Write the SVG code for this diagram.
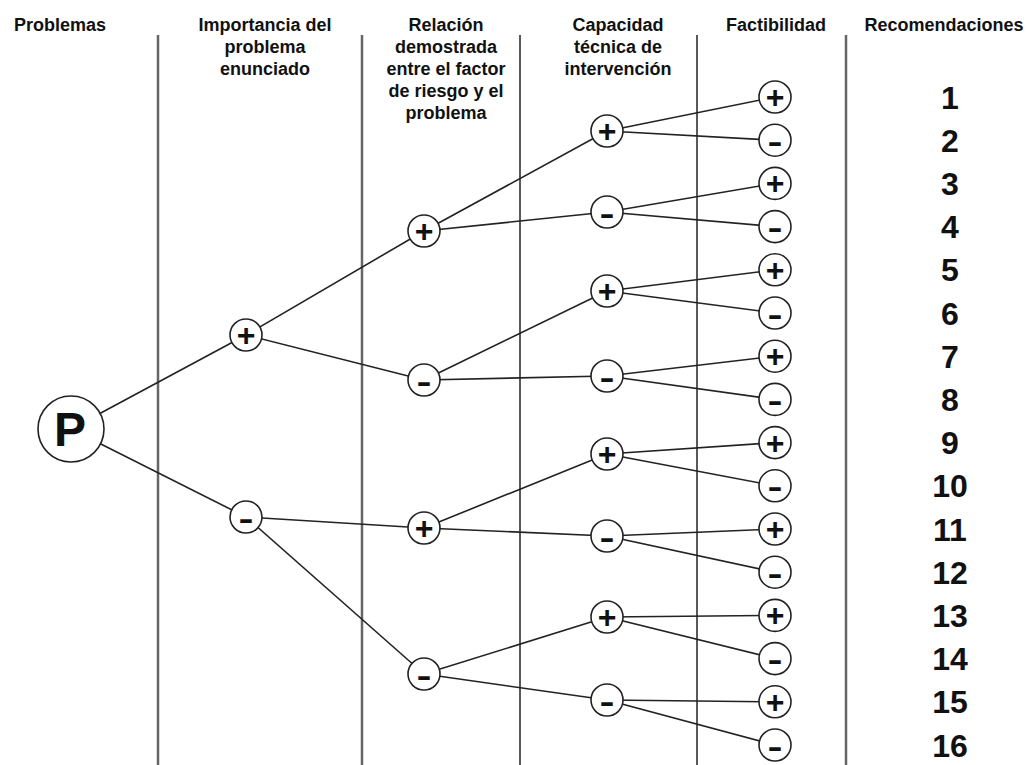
<svg xmlns="http://www.w3.org/2000/svg" width="1028" height="765" viewBox="0 0 1028 765">
  <style>
    .hdr { font-family: "Liberation Sans", Arial, sans-serif; font-weight: bold; font-size: 18px; fill: #111; text-anchor: middle; }
    .num { font-family: "Liberation Sans", Arial, sans-serif; font-weight: bold; font-size: 32px; fill: #111; text-anchor: middle; }
    .sign { font-family: "Liberation Sans", Arial, sans-serif; font-weight: bold; font-size: 32px; fill: #111; text-anchor: middle; }
    .big { font-family: "Liberation Sans", Arial, sans-serif; font-weight: bold; font-size: 48px; fill: #111; text-anchor: middle; }
    .node { fill: #fff; stroke: #222; stroke-width: 1.6; }
    .edge { stroke: #222; stroke-width: 1.6; fill: none; }
    .col-g { stroke: #666; stroke-width: 2.5; }
    .col-k { stroke: #222; stroke-width: 1.5; }
  </style>

  <!-- column separators -->
  <g id="columns">
    <line class="col-g" x1="158" y1="35" x2="158" y2="765"/>
    <line class="col-g" x1="362" y1="35" x2="362" y2="765"/>
    <line class="col-k" x1="520" y1="35" x2="520" y2="765"/>
    <line class="col-k" x1="697" y1="35" x2="697" y2="765"/>
    <line class="col-g" x1="846" y1="35" x2="846" y2="765"/>
  </g>

  <!-- column headings -->
  <g id="headers">
    <text class="hdr" x="60" y="31">Problemas</text>
    <text class="hdr" x="265" y="31">Importancia del</text>
    <text class="hdr" x="265" y="53">problema</text>
    <text class="hdr" x="265" y="75">enunciado</text>
    <text class="hdr" x="446" y="31">Relación</text>
    <text class="hdr" x="446" y="53">demostrada</text>
    <text class="hdr" x="446" y="75">entre el factor</text>
    <text class="hdr" x="446" y="97">de riesgo y el</text>
    <text class="hdr" x="446" y="119">problema</text>
    <text class="hdr" x="618" y="31">Capacidad</text>
    <text class="hdr" x="618" y="53">técnica de</text>
    <text class="hdr" x="618" y="75">intervención</text>
    <text class="hdr" x="776" y="31">Factibilidad</text>
    <text class="hdr" x="944" y="31">Recomendaciones</text>
  </g>

  <!-- tree branches -->
  <g id="connectors">
    <line class="edge" x1="71" y1="429" x2="246" y2="335"/>
    <line class="edge" x1="71" y1="429" x2="246" y2="517"/>

    <line class="edge" x1="246" y1="335" x2="424" y2="231"/>
    <line class="edge" x1="246" y1="335" x2="424" y2="380"/>
    <line class="edge" x1="246" y1="517" x2="424" y2="528"/>
    <line class="edge" x1="246" y1="517" x2="424" y2="674"/>

    <line class="edge" x1="424" y1="231" x2="607" y2="131"/>
    <line class="edge" x1="424" y1="231" x2="607" y2="212"/>
    <line class="edge" x1="424" y1="380" x2="607" y2="291"/>
    <line class="edge" x1="424" y1="380" x2="607" y2="376"/>
    <line class="edge" x1="424" y1="528" x2="607" y2="454"/>
    <line class="edge" x1="424" y1="528" x2="607" y2="536"/>
    <line class="edge" x1="424" y1="674" x2="607" y2="617"/>
    <line class="edge" x1="424" y1="674" x2="607" y2="700"/>

    <line class="edge" x1="607" y1="131" x2="775" y2="97"/>
    <line class="edge" x1="607" y1="131" x2="775" y2="140.2"/>
    <line class="edge" x1="607" y1="212" x2="775" y2="183.4"/>
    <line class="edge" x1="607" y1="212" x2="775" y2="226.6"/>
    <line class="edge" x1="607" y1="291" x2="775" y2="269.8"/>
    <line class="edge" x1="607" y1="291" x2="775" y2="313"/>
    <line class="edge" x1="607" y1="376" x2="775" y2="356.2"/>
    <line class="edge" x1="607" y1="376" x2="775" y2="399.4"/>
    <line class="edge" x1="607" y1="454" x2="775" y2="442.6"/>
    <line class="edge" x1="607" y1="454" x2="775" y2="485.8"/>
    <line class="edge" x1="607" y1="536" x2="775" y2="529"/>
    <line class="edge" x1="607" y1="536" x2="775" y2="572.2"/>
    <line class="edge" x1="607" y1="617" x2="775" y2="615.4"/>
    <line class="edge" x1="607" y1="617" x2="775" y2="658.6"/>
    <line class="edge" x1="607" y1="700" x2="775" y2="701.8"/>
    <line class="edge" x1="607" y1="700" x2="775" y2="745"/>
  </g>

  <!-- root -->
  <g id="node-P">
    <circle class="node" cx="71" cy="429" r="33"/>
    <text class="big" x="70" y="446">P</text>
  </g>

  <!-- level 1: importance -->
  <g id="n1-plus"><circle class="node" cx="246" cy="335" r="16"/><text class="sign" x="246" y="346">+</text></g>
  <g id="n1-minus"><circle class="node" cx="246" cy="517" r="16"/><text class="sign" x="246" y="528.5" textLength="15" lengthAdjust="spacingAndGlyphs">-</text></g>

  <!-- level 2: relation -->
  <g id="n2-a-plus"><circle class="node" cx="424" cy="231" r="16"/><text class="sign" x="424" y="242">+</text></g>
  <g id="n2-a-minus"><circle class="node" cx="424" cy="380" r="16"/><text class="sign" x="424" y="391.5" textLength="15" lengthAdjust="spacingAndGlyphs">-</text></g>
  <g id="n2-b-plus"><circle class="node" cx="424" cy="528" r="16"/><text class="sign" x="424" y="539">+</text></g>
  <g id="n2-b-minus"><circle class="node" cx="424" cy="674" r="16"/><text class="sign" x="424" y="685.5" textLength="15" lengthAdjust="spacingAndGlyphs">-</text></g>

  <!-- level 3: technical capacity -->
  <g id="n3-1-plus"><circle class="node" cx="607" cy="131" r="16"/><text class="sign" x="607" y="142">+</text></g>
  <g id="n3-1-minus"><circle class="node" cx="607" cy="212" r="16"/><text class="sign" x="607" y="223.5" textLength="15" lengthAdjust="spacingAndGlyphs">-</text></g>
  <g id="n3-2-plus"><circle class="node" cx="607" cy="291" r="16"/><text class="sign" x="607" y="302">+</text></g>
  <g id="n3-2-minus"><circle class="node" cx="607" cy="376" r="16"/><text class="sign" x="607" y="387.5" textLength="15" lengthAdjust="spacingAndGlyphs">-</text></g>
  <g id="n3-3-plus"><circle class="node" cx="607" cy="454" r="16"/><text class="sign" x="607" y="465">+</text></g>
  <g id="n3-3-minus"><circle class="node" cx="607" cy="536" r="16"/><text class="sign" x="607" y="547.5" textLength="15" lengthAdjust="spacingAndGlyphs">-</text></g>
  <g id="n3-4-plus"><circle class="node" cx="607" cy="617" r="16"/><text class="sign" x="607" y="628">+</text></g>
  <g id="n3-4-minus"><circle class="node" cx="607" cy="700" r="16"/><text class="sign" x="607" y="711.5" textLength="15" lengthAdjust="spacingAndGlyphs">-</text></g>

  <!-- level 4: feasibility -->
  <g id="n4-01"><circle class="node" cx="775" cy="97" r="16"/><text class="sign" x="775" y="108">+</text></g>
  <g id="n4-02"><circle class="node" cx="775" cy="140.2" r="16"/><text class="sign" x="775" y="151.7" textLength="15" lengthAdjust="spacingAndGlyphs">-</text></g>
  <g id="n4-03"><circle class="node" cx="775" cy="183.4" r="16"/><text class="sign" x="775" y="194.4">+</text></g>
  <g id="n4-04"><circle class="node" cx="775" cy="226.6" r="16"/><text class="sign" x="775" y="238.1" textLength="15" lengthAdjust="spacingAndGlyphs">-</text></g>
  <g id="n4-05"><circle class="node" cx="775" cy="269.8" r="16"/><text class="sign" x="775" y="280.8">+</text></g>
  <g id="n4-06"><circle class="node" cx="775" cy="313" r="16"/><text class="sign" x="775" y="324.5" textLength="15" lengthAdjust="spacingAndGlyphs">-</text></g>
  <g id="n4-07"><circle class="node" cx="775" cy="356.2" r="16"/><text class="sign" x="775" y="367.2">+</text></g>
  <g id="n4-08"><circle class="node" cx="775" cy="399.4" r="16"/><text class="sign" x="775" y="410.9" textLength="15" lengthAdjust="spacingAndGlyphs">-</text></g>
  <g id="n4-09"><circle class="node" cx="775" cy="442.6" r="16"/><text class="sign" x="775" y="453.6">+</text></g>
  <g id="n4-10"><circle class="node" cx="775" cy="485.8" r="16"/><text class="sign" x="775" y="497.3" textLength="15" lengthAdjust="spacingAndGlyphs">-</text></g>
  <g id="n4-11"><circle class="node" cx="775" cy="529" r="16"/><text class="sign" x="775" y="540">+</text></g>
  <g id="n4-12"><circle class="node" cx="775" cy="572.2" r="16"/><text class="sign" x="775" y="583.7" textLength="15" lengthAdjust="spacingAndGlyphs">-</text></g>
  <g id="n4-13"><circle class="node" cx="775" cy="615.4" r="16"/><text class="sign" x="775" y="626.4">+</text></g>
  <g id="n4-14"><circle class="node" cx="775" cy="658.6" r="16"/><text class="sign" x="775" y="670.1" textLength="15" lengthAdjust="spacingAndGlyphs">-</text></g>
  <g id="n4-15"><circle class="node" cx="775" cy="701.8" r="16"/><text class="sign" x="775" y="712.8">+</text></g>
  <g id="n4-16"><circle class="node" cx="775" cy="745" r="16"/><text class="sign" x="775" y="756.5" textLength="15" lengthAdjust="spacingAndGlyphs">-</text></g>

  <!-- recommendation numbers -->
  <g id="recommendations">
    <text class="num" x="950" y="108.5">1</text>
    <text class="num" x="950" y="151.7">2</text>
    <text class="num" x="950" y="194.9">3</text>
    <text class="num" x="950" y="238.1">4</text>
    <text class="num" x="950" y="281.3">5</text>
    <text class="num" x="950" y="324.5">6</text>
    <text class="num" x="950" y="367.7">7</text>
    <text class="num" x="950" y="410.9">8</text>
    <text class="num" x="950" y="454.1">9</text>
    <text class="num" x="950" y="497.3">10</text>
    <text class="num" x="950" y="540.5">11</text>
    <text class="num" x="950" y="583.7">12</text>
    <text class="num" x="950" y="626.9">13</text>
    <text class="num" x="950" y="670.1">14</text>
    <text class="num" x="950" y="713.3">15</text>
    <text class="num" x="950" y="756.5">16</text>
  </g>
</svg>
